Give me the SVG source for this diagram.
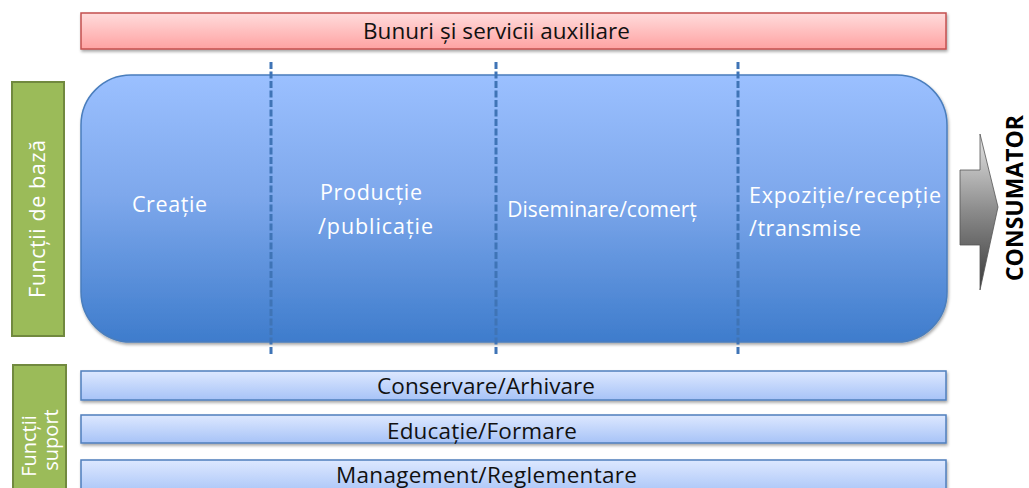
<svg xmlns="http://www.w3.org/2000/svg" width="1029" height="488" viewBox="0 0 1029 488">
<defs>
<linearGradient id="gRed" x1="0" y1="0" x2="0" y2="1"><stop offset="0" stop-color="#ffdcdc"/><stop offset="1" stop-color="#ffa2a2"/></linearGradient>
<linearGradient id="gBlue" x1="0" y1="0" x2="0" y2="1"><stop offset="0" stop-color="#9bc0ff"/><stop offset="0.45" stop-color="#7ea8ec"/><stop offset="1" stop-color="#3e7ccc"/></linearGradient>
<linearGradient id="gBar" x1="0" y1="0" x2="0" y2="1"><stop offset="0" stop-color="#dde8ff"/><stop offset="1" stop-color="#a7c3f7"/></linearGradient>
<linearGradient id="gArrow" x1="0" y1="0" x2="0" y2="1"><stop offset="0" stop-color="#e6e6e6"/><stop offset="0.5" stop-color="#8a8a8a"/><stop offset="1" stop-color="#3a3a3a"/></linearGradient>
<filter id="sh" x="-5%" y="-20%" width="110%" height="150%"><feDropShadow dx="1" dy="2" stdDeviation="1.5" flood-color="#000" flood-opacity="0.35"/></filter>
</defs>
<style>
.red{fill:url(#gRed);stroke:#c4504f;stroke-width:1.5}
.blue{fill:url(#gBlue);stroke:#4a7ebd;stroke-width:1.5}
.bar{fill:url(#gBar);stroke:#4f7fbd;stroke-width:1.5}
.green{fill:#9bbb59;stroke:#71893f;stroke-width:2}
.dash{stroke:#3f74b6;stroke-width:3;stroke-dasharray:7 2.5;fill:none}
.t{font-family:"Open Sans","Noto Sans","DejaVu Sans",sans-serif;text-anchor:middle}
.dark{fill:#111;font-size:22.5px}
.white{fill:#fff;font-size:21.5px}
.cons{font-family:"Open Sans","DejaVu Sans",sans-serif;font-weight:bold;font-size:23px;fill:#000;text-anchor:middle}
</style>
<g id="auxiliare">
<rect class="red" x="81" y="13" width="865" height="36" filter="url(#sh)"/>
<text class="t dark" x="496.5" y="39" textLength="267">Bunuri și servicii auxiliare</text>
</g>
<g id="functii-baza-label">
<rect class="green" x="12" y="82" width="52" height="254"/>
<text class="t white" x="0" y="0" transform="translate(45,219) rotate(-90)" textLength="158">Funcții de bază</text>
</g>
<g id="functii-baza">
<rect class="blue" x="81" y="75" width="866" height="267" rx="50" ry="50" filter="url(#sh)"/>
<text class="t white" x="169.5" y="212" textLength="75">Creație</text>
<text class="t white" x="371" y="200" textLength="102">Producție</text>
<text class="t white" x="375.5" y="234" textLength="115">/publicație</text>
<text class="t white" x="602" y="217" style="font-size:21px">Diseminare/comerț</text>
<text class="t white" x="845" y="203" textLength="192">Expoziție/recepție</text>
<text class="t white" x="805" y="236" textLength="112">/transmise</text>
</g>
<g id="connectors">
<line class="dash" x1="271" y1="62" x2="271" y2="356"/>
<line class="dash" x1="496" y1="62" x2="496" y2="356"/>
<line class="dash" x1="738" y1="62" x2="738" y2="356"/>
<path d="M960 170 L980 170 L980 134 L998 207 L980 290 L980 245 L960 245 Z" fill="url(#gArrow)" stroke="#555" stroke-width="0.8"/>
</g>
<g id="consumator">
<text class="cons" x="0" y="0" transform="translate(1023,198) rotate(-90)">CONSUMATOR</text>
</g>
<g id="functii-suport-label">
<rect class="green" x="13" y="365" width="53" height="130"/>
<text class="t white" x="0" y="0" transform="translate(36,446) rotate(-90)" style="font-size:20px">Funcții</text>
<text class="t white" x="0" y="0" transform="translate(58,440) rotate(-90)" style="font-size:20px">suport</text>
</g>
<g id="conservare">
<rect class="bar" x="81" y="371" width="865" height="29" filter="url(#sh)"/>
<text class="t dark" x="486" y="394" textLength="218">Conservare/Arhivare</text>
</g>
<g id="educatie">
<rect class="bar" x="81" y="415" width="865" height="28" filter="url(#sh)"/>
<text class="t dark" x="482" y="439" textLength="190">Educație/Formare</text>
</g>
<g id="management">
<rect class="bar" x="81" y="460" width="865" height="35" filter="url(#sh)"/>
<text class="t dark" x="486.5" y="483" textLength="301">Management/Reglementare</text>
</g>
</svg>
